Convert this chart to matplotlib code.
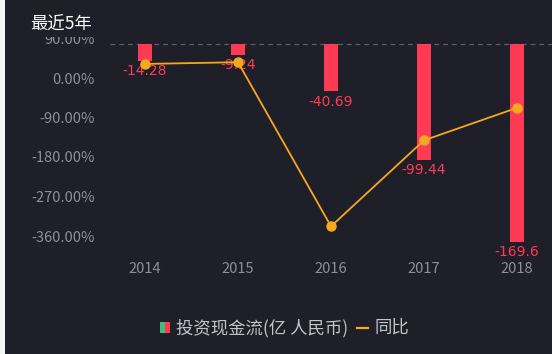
import matplotlib.pyplot as plt
from matplotlib.patches import Rectangle
from matplotlib.lines import Line2D

plt.rcParams['font.family'] = ['Noto Sans CJK SC', 'DejaVu Sans']

years = ['2014', '2015', '2016', '2017', '2018']
cashflow = [-14.28, -9.24, -40.69, -99.44, -169.6]
growth = [32.0, 36.0, -338.0, -142.0, -68.0]
yticks = [90, 0, -90, -180, -270, -360]

bg = '#1f1f29'
red = '#ff3a55'
orange = '#f5a91e'
grey = '#8e8e9c'

W, H = 552, 354
fig = plt.figure(figsize=(W / 100, H / 100), dpi=100)
fig.patch.set_facecolor(bg)
# white strip on the left edge
fig.patches.append(Rectangle((0, 0), 5 / W, 1, transform=fig.transFigure,
                             facecolor='#f4f4f4', edgecolor='none'))

left, right, top, bot = 110, 552, 38, 254
pos = [left / W, (H - bot) / H, (right - left) / W, (bot - top) / H]
ax = fig.add_axes(pos)
ax.set_facecolor('none')
ax2 = ax.twinx()
ax2.set_zorder(ax.get_zorder() - 1)
ax.patch.set_visible(False)
ax2.set_facecolor('none')

x = list(range(len(years)))
xmin = -35 / 93
xmax = xmin + (right - left) / 93

# bars on second axis
ax2.bar(x, cashflow, width=0.15, color=red, zorder=2)
ax2.set_ylim(-(bot - 44) / 1.167, (44 - top) / 1.167)
ax2.axhline(0, color='#5e5e6a', lw=0.9, ls=(0, (4, 3)), zorder=1)
for xi, v in zip(x, cashflow):
    ax2.annotate(f'{v:g}', (xi, v), xytext=(0, -7.5),
                 textcoords='offset points', ha='center', va='center',
                 color=red, fontsize=10, family='DejaVu Sans')
ax2.set_yticks([])

# line on first axis
ax.plot(x, growth, color=orange, lw=1.3, marker='o', ms=6.5, zorder=3)
ax.set_ylim(-(bot - 78) / 39.5 * 90, (78 - top) / 39.5 * 90)
ax.set_yticks(yticks)
ax.set_yticklabels([f'{t:.2f}%' for t in yticks])
ax.set_xlim(xmin, xmax)
ax2.set_xlim(xmin, xmax)
ax.set_xticks(x)
ax.set_xticklabels(years)
ax.tick_params(axis='y', length=0, pad=11, colors=grey, labelsize=10.5)
ax.tick_params(axis='x', length=0, pad=6, colors=grey, labelsize=10.5)
for a in (ax, ax2):
    for s in a.spines.values():
        s.set_visible(False)

fig.text(30 / W, 1 - 25 / H, '最近5年', color='white', fontsize=12.5, va='center',
         ha='left', fontweight='medium',
         bbox=dict(facecolor=bg, edgecolor='none', pad=2))

# legend
ly = 1 - 328 / H
fig.patches.append(Rectangle((160 / W, ly - 5 / H), 5 / W, 11 / H, transform=fig.transFigure,
                             facecolor='#3fc07a', edgecolor='none'))
fig.patches.append(Rectangle((165 / W, ly - 5 / H), 5 / W, 11 / H, transform=fig.transFigure,
                             facecolor='#ff3a55', edgecolor='none'))
fig.text(176 / W, ly, '投资现金流(亿 人民币)', color='#c4c4cc', fontsize=12.5,
         va='center', ha='left')
fig.lines.append(Line2D([357 / W, 368 / W], [ly, ly], transform=fig.transFigure,
                        color=orange, lw=1.6))
fig.text(374 / W, ly, '同比', color='#c4c4cc', fontsize=12.5, va='center', ha='left')

fig.savefig('out.png', dpi=100, facecolor=bg)
